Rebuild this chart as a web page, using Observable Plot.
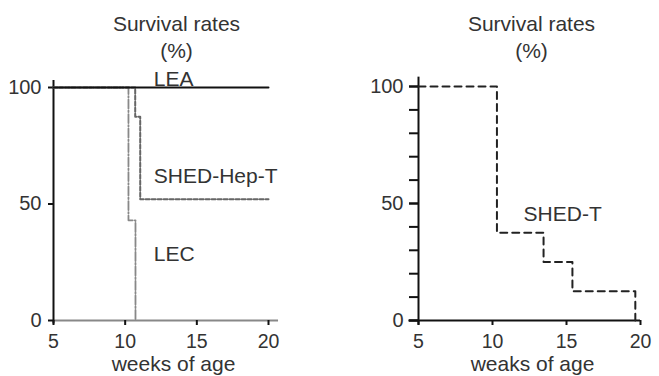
<!DOCTYPE html>
<html>
<head>
<meta charset="utf-8">
<script src="https://cdn.jsdelivr.net/npm/d3@7"></script>
<script src="https://cdn.jsdelivr.net/npm/@observablehq/plot@0.6"></script>
<style>
  html, body { margin: 0; padding: 0; background: #fff; }
  #wrap { position: relative; width: 659px; height: 376px; overflow: hidden; }
  #left { position: absolute; left: 0; top: 0; }
  #right { position: absolute; left: 330px; top: 0; }
</style>
</head>
<body>
<div id="wrap"><div id="left"></div><div id="right"></div></div>
<script>
// ---- Data ----
const xTicks = [5, 10, 15, 20];
const yTicksMajor = [0, 50, 100];
const yTicksMinor = [0, 10, 20, 30, 40, 50, 60, 70, 80, 90, 100];

const titleLine1 = "Survival rates";
const titleLine2 = "(%)";
const xLabelLeft = "weeks of age";
const xLabelRight = "weaks of age";

// Left panel series (weeks, survival %)
const leaWeeks = [5, 20];
const leaSurv = [100, 100];
const shedHepWeeks = [5, 10.7, 11.05, 20];
const shedHepSurv = [100, 87.5, 52, 52];
const lecWeeks = [5, 10.23, 10.72];
const lecSurv = [100, 43, 0];

// Right panel series
const shedTWeeks = [5, 10.3, 13.45, 15.4, 19.65];
const shedTSurv = [100, 37.5, 25, 12.5, 0];

// Series labels
const leftLabels = ["LEA", "SHED-Hep-T", "LEC"];
const leftLabelX = [12, 12, 12];
const leftLabelY = [103.6, 62, 28.5];
const rightLabels = ["SHED-T"];
const rightLabelX = [12.1];
const rightLabelY = [45.5];

const toRows = (xs, ys) => xs.map((x, i) => ({x, y: ys[i]}));
const FONT = "Liberation Sans, Arial, Helvetica, sans-serif";
const TXT = "#333";
const FS = 21;

// ---- Left panel ----
const left = Plot.plot({
  width: 330, height: 376,
  marginLeft: 53, marginRight: 62, marginTop: 87, marginBottom: 56,
  style: {fontFamily: FONT, fontSize: "20px", color: TXT, background: "transparent"},
  x: {domain: [5, 20]},
  y: {domain: [0, 100]},
  marks: [
    Plot.ruleY([0], {x1: 5, x2: 20.7, stroke: "#888", strokeWidth: 2}),
    Plot.ruleX([5], {y1: -1.5, y2: 103, stroke: "#111", strokeWidth: 2}),
    Plot.axisX(xTicks, {tickSize: 5, tickPadding: 9, fontSize: 19.5, stroke: "#111", strokeWidth: 2, color: TXT, label: null}),
    Plot.axisY(yTicksMajor, {tickSize: 5, tickPadding: 7, fontSize: 20, stroke: "#111", strokeWidth: 2, color: TXT, label: null}),
    Plot.line(toRows(lecWeeks, lecSurv), {x: "x", y: "y", curve: "step-after", stroke: "#888", strokeWidth: 1.8, strokeDasharray: "9,2,1.5,2"}),
    Plot.line(toRows(shedHepWeeks, shedHepSurv), {x: "x", y: "y", curve: "step-after", stroke: "#666", strokeWidth: 2, strokeDasharray: "4,2"}),
    Plot.line(toRows(leaWeeks, leaSurv), {x: "x", y: "y", curve: "step-after", stroke: "#111", strokeWidth: 2}),
    Plot.text(leftLabels, {x: (d, i) => leftLabelX[i], y: (d, i) => leftLabelY[i], text: d => d, textAnchor: "start", lineAnchor: "middle", fontSize: FS, fill: TXT}),
    Plot.text([titleLine1], {frameAnchor: "top", lineAnchor: "middle", dx: 15.5, dy: -63.5, fontSize: FS, fill: TXT}),
    Plot.text([titleLine2], {frameAnchor: "top", lineAnchor: "middle", dx: 15.5, dy: -36, fontSize: FS, fill: TXT}),
    Plot.text([xLabelLeft], {frameAnchor: "bottom", lineAnchor: "middle", dx: 12.5, dy: 43.5, fontSize: FS, fill: TXT})
  ]
});
document.getElementById("left").appendChild(left);

// ---- Right panel ----
const right = Plot.plot({
  width: 329, height: 376,
  marginLeft: 88, marginRight: 19, marginTop: 86, marginBottom: 56,
  style: {fontFamily: FONT, fontSize: "20px", color: TXT, background: "transparent"},
  x: {domain: [5, 20]},
  y: {domain: [0, 100]},
  marks: [
    Plot.ruleY([0], {x1: 4.35, x2: 20, stroke: "#111", strokeWidth: 2}),
    Plot.ruleX([5], {y1: -2, y2: 104, stroke: "#111", strokeWidth: 2}),
    Plot.axisX(xTicks, {tickSize: 5, tickPadding: 9, fontSize: 19.5, stroke: "#111", strokeWidth: 2, color: TXT, label: null}),
    Plot.axisY(yTicksMinor, {tickSize: 9, tickFormat: () => "", stroke: "#111", strokeWidth: 2, label: null}),
    Plot.axisY(yTicksMajor, {tickSize: 9, tickPadding: 6, fontSize: 20, stroke: "#111", strokeWidth: 2, color: TXT, label: null}),
    Plot.line(toRows(shedTWeeks, shedTSurv), {x: "x", y: "y", curve: "step-after", stroke: "#222", strokeWidth: 2, strokeDasharray: "7,5"}),
    Plot.text(rightLabels, {x: (d, i) => rightLabelX[i], y: (d, i) => rightLabelY[i], text: d => d, textAnchor: "start", lineAnchor: "middle", fontSize: FS, fill: TXT}),
    Plot.text([titleLine1], {frameAnchor: "top", lineAnchor: "middle", dx: 2, dy: -62.5, fontSize: FS, fill: TXT}),
    Plot.text([titleLine2], {frameAnchor: "top", lineAnchor: "middle", dx: 2, dy: -35, fontSize: FS, fill: TXT}),
    Plot.text([xLabelRight], {frameAnchor: "bottom", lineAnchor: "middle", dx: 3, dy: 43.5, fontSize: FS, fill: TXT})
  ]
});
document.getElementById("right").appendChild(right);
</script>
</body>
</html>
